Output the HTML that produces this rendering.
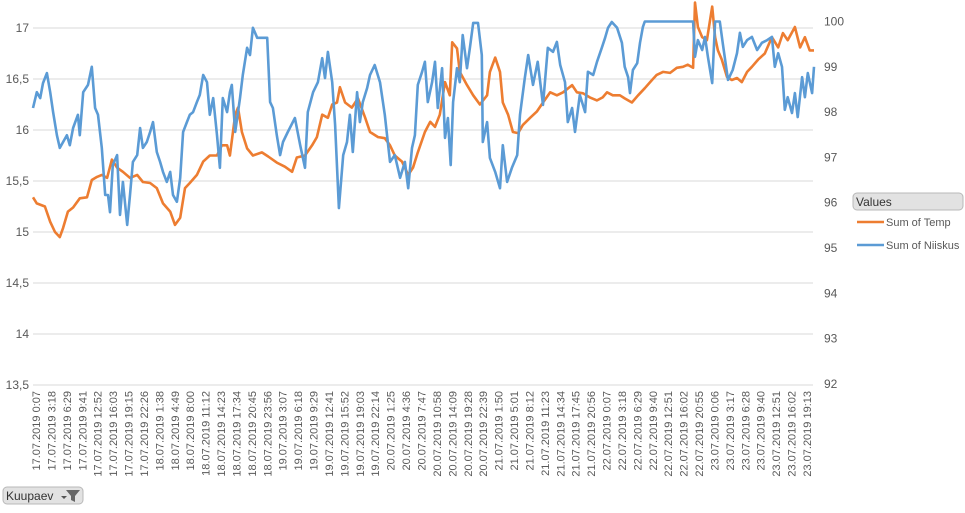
<!DOCTYPE html>
<html><head><meta charset="utf-8"><style>
body{margin:0;background:#fff;width:965px;height:513px;overflow:hidden;font-family:"Liberation Sans",sans-serif}
svg{position:absolute;left:0;top:0}
</style></head><body>
<svg id="chart" width="965" height="513" xmlns="http://www.w3.org/2000/svg">
<g id="grid"></g>
<g id="yl"></g>
<g id="yr"></g>
<g id="xl"></g>
<g id="series"></g>
<g>
<rect x="853" y="193" width="110" height="17" rx="4" fill="#e2e2e2" stroke="#b8b8b8"/>
<text x="856" y="206" font-size="12" fill="#333">Values</text>
<line x1="857" y1="222" x2="884" y2="222" stroke="#ED7D31" stroke-width="2.5"/>
<text x="886" y="226" font-size="11" fill="#595959">Sum of Temp</text>
<line x1="857" y1="245" x2="884" y2="245" stroke="#5B9BD5" stroke-width="2.5"/>
<text x="886" y="249" font-size="11" fill="#595959">Sum of Niiskus</text>
</g>
<g>
<rect x="3" y="487" width="80" height="17" rx="4" fill="#e2e2e2" stroke="#b8b8b8"/>
<text x="6" y="500" font-size="12" fill="#333">Kuupaev</text>
<path d="M61 496 l3 3 l3 -3z" fill="#555"/>
<path d="M66 490 h14 l-5 6 v6 l-4 -2 v-4z" fill="#666"/>
</g>
</svg>
<script>
const leftTicks=[13.5,14,14.5,15,15.5,16,16.5,17];
const leftTickLabels=["13,5","14","14,5","15","15,5","16","16,5","17"];
const rightTicks=[92,93,94,95,96,97,98,99,100];
const xLabels=["17.07.2019 0:07","17.07.2019 3:18","17.07.2019 6:29","17.07.2019 9:41","17.07.2019 12:52","17.07.2019 16:03","17.07.2019 19:15","17.07.2019 22:26",
"18.07.2019 1:38","18.07.2019 4:49","18.07.2019 8:00","18.07.2019 11:12","18.07.2019 14:23","18.07.2019 17:34","18.07.2019 20:45","18.07.2019 23:56",
"19.07.2019 3:07","19.07.2019 6:18","19.07.2019 9:29","19.07.2019 12:41","19.07.2019 15:52","19.07.2019 19:03","19.07.2019 22:14",
"20.07.2019 1:25","20.07.2019 4:36","20.07.2019 7:47","20.07.2019 10:58","20.07.2019 14:09","20.07.2019 19:28","20.07.2019 22:39",
"21.07.2019 1:50","21.07.2019 5:01","21.07.2019 8:12","21.07.2019 11:23","21.07.2019 14:34","21.07.2019 17:45","21.07.2019 20:56",
"22.07.2019 0:07","22.07.2019 3:18","22.07.2019 6:29","22.07.2019 9:40","22.07.2019 12:51","22.07.2019 16:02","22.07.2019 20:55",
"23.07.2019 0:06","23.07.2019 3:17","23.07.2019 6:28","23.07.2019 9:40","23.07.2019 12:51","23.07.2019 16:02","23.07.2019 19:13"];
const tempHours=[0,0.8,2.5,3.6,4.6,5.6,6.3,7.3,8.4,9.8,11.3,12.3,13.4,14.4,15.5,16.5,17.6,18.8,20.3,21.8,23,24.5,25.9,27.2,28.7,29.7,30.8,31.8,32.8,34.3,35.6,37,38.5,39.5,40.6,41.2,42.3,42.9,43.7,44.8,46,47.9,49.2,51,52.7,54.2,55.2,56.9,58.4,59.4,60.5,61.7,62.6,63.6,64.2,65.3,66.7,68,69.5,70.5,72.2,73.6,74.7,75.7,77.2,78.5,79.5,80.5,82,83.1,84.1,85.1,86.2,87.2,87.7,88.7,89.3,90.8,92.1,93.5,95,95.6,96.7,97.7,98.3,99.4,100.4,101.5,102.5,104,105.4,106.7,108.2,109.6,110.9,112.8,113.8,115.1,116.5,118,119.2,120.1,121.3,122.8,123.8,125.3,126.6,128,129.5,130.5,131.8,133.3,134.7,136,137,138.1,138.5,139.1,140,141,142.1,142.7,143.3,144.1,145.2,146.2,147.3,148.3,149.4,150.4,151.7,153.1,154.6,155.9,156.9,157.9,159.4,160.5,161.5,162.5,163.4];
const tempValues=[15.34,15.28,15.25,15.10,15.00,14.95,15.04,15.20,15.24,15.33,15.34,15.51,15.54,15.56,15.53,15.71,15.63,15.59,15.53,15.56,15.49,15.48,15.43,15.28,15.20,15.07,15.14,15.43,15.48,15.56,15.69,15.75,15.75,15.85,15.85,15.75,16.15,16.22,15.98,15.82,15.75,15.78,15.74,15.68,15.64,15.59,15.73,15.75,15.85,15.93,16.15,16.12,16.25,16.27,16.42,16.27,16.22,16.31,16.12,15.98,15.93,15.92,15.85,15.75,15.69,15.56,15.63,15.78,15.98,16.08,16.03,16.15,16.47,16.34,16.86,16.80,16.57,16.44,16.34,16.25,16.34,16.57,16.71,16.57,16.27,16.15,15.98,15.97,16.05,16.12,16.18,16.27,16.37,16.34,16.37,16.44,16.37,16.36,16.32,16.29,16.32,16.37,16.34,16.34,16.31,16.27,16.34,16.41,16.49,16.54,16.57,16.56,16.61,16.62,16.64,16.61,17.25,17.01,16.91,16.88,17.21,16.91,16.78,16.69,16.52,16.49,16.51,16.47,16.57,16.62,16.69,16.75,16.91,16.81,16.95,16.88,17.01,16.81,16.91,16.78,16.78];
const humHours=[0,0.8,1.5,2.1,2.9,3.6,4.2,5,5.6,6.3,7.1,7.7,8.4,9.4,9.8,10.5,11.5,12.3,13,13.6,14.4,15.1,15.7,16.1,16.7,17.6,18.2,18.8,19.7,20.3,20.9,21.8,22.4,23,23.8,24.5,25.1,25.9,26.6,27.2,28,28.7,29.3,30.1,30.8,31.4,32.2,32.8,33.5,34.3,34.9,35.6,36.4,37,37.7,38.5,39.1,39.7,40.6,41.2,41.6,42.3,43.3,43.9,44.8,45.4,46,46.9,47.9,49,49.6,50.2,51,51.7,52.3,53.3,54.8,55.9,56.9,57.5,58.6,59.6,60.5,61.1,61.7,62.6,63.2,64,64.9,65.7,66.3,66.9,67.8,68.4,69,69.9,70.5,71.5,72.6,73.6,74.7,75.7,76.8,77.8,78.5,79.3,79.9,80.5,81.4,82,82.6,83.5,84.1,84.7,85.6,86.2,86.8,87.4,87.9,88.7,89.3,89.9,90.8,91.4,92.1,93.1,93.9,94.1,95,95.6,96.7,97.7,98.3,99.2,100.2,101.3,101.9,102.9,103.6,104.6,105.6,106.7,107.7,108.8,109.6,110.3,111.3,111.9,112.8,113.4,114.4,115.5,116.1,117.2,118,119,119.7,120.3,121.1,122.2,123.2,123.8,124.5,124.9,125.5,126.4,127,127.6,128,138.1,138.5,139.1,140,140.6,141.2,142.1,142.7,143.7,144.3,145.4,146.4,147.3,147.9,148.5,149.4,150.4,151.5,152.5,153.6,154.6,155.2,155.9,156.7,157.3,157.9,158.8,159.4,160,160.9,161.5,162.1,163,163.4];
const humValues=[98.09,98.44,98.31,98.64,98.86,98.44,98.00,97.49,97.21,97.34,97.49,97.27,97.65,97.94,97.49,98.44,98.60,99.00,98.09,97.94,97.21,96.17,96.17,95.79,96.83,97.05,95.73,96.46,95.51,96.17,96.90,97.05,97.65,97.21,97.34,97.56,97.78,97.12,96.90,96.68,96.46,96.68,96.17,96.02,96.55,97.56,97.78,97.94,98.00,98.22,98.38,98.82,98.66,97.94,98.31,97.49,96.77,98.31,98.00,98.44,98.60,97.56,98.31,98.82,99.42,99.26,99.86,99.64,99.64,99.64,98.22,98.09,97.49,97.05,97.34,97.56,97.87,97.27,96.77,98.00,98.44,98.66,99.19,98.75,99.33,98.66,97.72,95.88,97.05,97.34,97.94,97.12,98.44,97.78,98.22,98.53,98.82,99.04,98.66,97.94,96.90,97.05,96.55,96.90,96.32,97.21,97.49,98.60,98.89,99.11,98.22,98.66,99.11,98.09,98.97,97.43,97.87,96.83,98.22,98.97,98.66,99.70,98.97,99.42,99.97,99.97,99.26,97.34,97.78,96.99,96.68,96.32,97.27,96.46,96.77,97.05,97.94,98.75,99.26,98.60,99.11,98.16,99.42,99.33,99.55,99.04,98.66,97.78,98.09,97.56,98.38,98.00,98.89,98.82,99.11,99.42,99.64,99.86,99.99,99.86,99.53,99.00,98.77,98.42,98.93,99.08,99.53,99.88,100,100,99.22,99.59,99.37,99.66,99.22,98.64,100,100,99.53,98.71,98.93,99.30,99.75,99.44,99.59,99.66,99.37,99.53,99.59,99.66,99.00,99.30,99.00,98.05,98.33,97.98,98.42,97.89,98.77,98.33,98.86,98.42,99.00];

const NS="http://www.w3.org/2000/svg";
const X0=33,X1=814,maxH=163.4;
const xScale=h=>X0+(h/maxH)*(X1-X0);
const yLeft=v=>28+(17-v)*102;
const yRight=v=>21.5+(100-v)*45.3;
function mk(tag,parent,attrs){const e=document.createElementNS(NS,tag);for(const k in attrs)e.setAttribute(k,attrs[k]);parent.appendChild(e);return e;}
const grid=document.getElementById('grid'),yl=document.getElementById('yl'),yr=document.getElementById('yr'),xl=document.getElementById('xl'),ser=document.getElementById('series');
leftTicks.forEach((t,i)=>{
  const y=yLeft(t);
  const g=mk('line',grid,{x1:33,x2:813,y1:y,y2:y,stroke:'#d9d9d9','stroke-width':1});
  
  
  const tx=mk('text',yl,{x:29,y:y+4,'text-anchor':'end','font-size':12,fill:'#595959'});
  
  
  tx.textContent=leftTickLabels[i];
});
rightTicks.forEach(t=>{
  const tx=mk('text',yr,{x:824,y:yRight(t)+4,'font-size':12,fill:'#595959'});
  
  
  tx.textContent=String(t);
});
xLabels.forEach((s,i)=>{
  const x=36+i*(807-36)/(xLabels.length-1);
  const tx=mk('text',xl,{transform:`translate(${x+4},391) rotate(-90)`,'text-anchor':'end','font-size':11,fill:'#595959'});
  
  
  tx.textContent=s;
});
function line(hours,vals,sc,color,name){
  const p=mk('polyline',ser,{points:hours.map((h,i)=>xScale(h).toFixed(1)+','+sc(vals[i]).toFixed(1)).join(' '),fill:'none',stroke:color,'stroke-width':2.6,'stroke-linejoin':'round'});
  
  
}
line(tempHours,tempValues,yLeft,'#ED7D31','temp-line');
line(humHours,humValues,yRight,'#5B9BD5','niiskus-line');
</script>
</body></html>
